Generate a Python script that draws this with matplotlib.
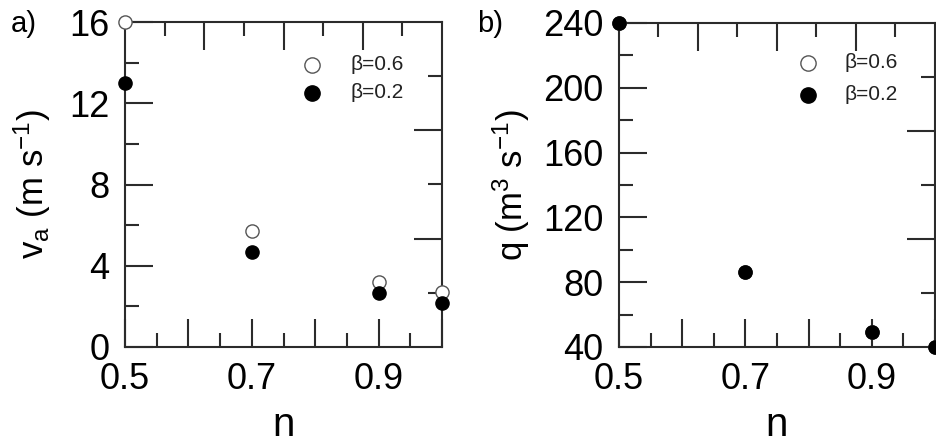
import numpy as np
import matplotlib
matplotlib.use('Agg')
import matplotlib.pyplot as plt
from matplotlib.ticker import MultipleLocator, FixedLocator, NullFormatter

plt.rcParams['font.family'] = ['Liberation Sans', 'DejaVu Sans']
plt.rcParams['mathtext.default'] = 'regular'

# data
n = [0.5, 0.7, 0.9, 1.0]
va_b06 = [16.0, 5.7, 3.2, 2.7]
va_b02 = [13.0, 4.67, 2.65, 2.15]
q_b06 = [240, 86.5, 49.5, 40]   # hidden under the filled markers
q_b02 = [240, 86.5, 49.5, 40]
xtick_labels = ['0.5', '', '0.7', '', '0.9', '']

dark = '#2b2b2b'
W, H = 937, 448
fig = plt.figure(figsize=(W / 100, H / 100), dpi=100)


def style_axes(ax, yticks, yminor):
    for s in ax.spines.values():
        s.set_color(dark)
        s.set_linewidth(1.5)
    ax.set_xlim(0.5, 1.0)
    ax.xaxis.set_minor_locator(MultipleLocator(0.05))
    ax.set_xticks(np.arange(0.5, 1.01, 0.1))
    ax.set_xticklabels(xtick_labels)
    ax.set_yticks(yticks)
    ax.yaxis.set_minor_locator(FixedLocator(yminor))
    ax.tick_params(which='both', direction='in', color=dark, width=1.5,
                   top=False, right=False)
    ax.tick_params(which='major', length=20.5)
    ax.tick_params(which='minor', length=10)
    ax.tick_params(axis='x', labelsize=26, pad=11)
    ax.tick_params(axis='y', labelsize=26, pad=11)
    ax.set_xlabel('n', fontsize=29, labelpad=6)

    # separate ticks on the top and right edges
    axt = ax.twiny()
    axt.set_xlim(0, 8)
    axt.set_xticks([2, 4, 6])
    axt.xaxis.set_minor_locator(FixedLocator([1, 3, 5, 7]))
    axt.xaxis.set_major_formatter(NullFormatter())
    axt.tick_params(which='both', direction='in', color=dark, width=1.5)
    axt.tick_params(which='major', length=20.5)
    axt.tick_params(which='minor', length=10)
    axr = ax.twinx()
    axr.set_ylim(0, 6)
    axr.set_yticks([2, 4])
    axr.yaxis.set_minor_locator(FixedLocator([1, 3, 5]))
    axr.yaxis.set_major_formatter(NullFormatter())
    axr.tick_params(which='both', direction='in', color=dark, width=1.5)
    axr.tick_params(which='major', length=20.5)
    axr.tick_params(which='minor', length=10)
    for a in (axt, axr):
        for s in a.spines.values():
            s.set_visible(False)
    ax.set_zorder(3)
    ax.patch.set_visible(False)


def add_legend(x0, y0, y1, x_text):
    fig.lines.append(plt.Line2D([x0 / W], [1 - y0 / H], marker='o', ms=11,
                                mfc='white', mec='#555555', mew=1.0,
                                transform=fig.transFigure))
    fig.lines.append(plt.Line2D([x0 / W], [1 - y1 / H], marker='o', ms=11,
                                mfc='black', mec='black',
                                transform=fig.transFigure))
    fig.text(x_text / W, 1 - y0 / H, 'β=0.6', fontsize=15, color='#222222',
             va='center', ha='left')
    fig.text(x_text / W, 1 - y1 / H, 'β=0.2', fontsize=15, color='#222222',
             va='center', ha='left')


# panel a
ax1 = fig.add_axes([125 / W, 1 - 347 / H, 317 / W, 325 / H])
ax1.plot(n, va_b06, 'o', ms=9.5, mfc='white', mec='#555555', mew=1.0,
         clip_on=False, zorder=4)
ax1.plot(n, va_b02, 'o', ms=9.5, mfc='black', mec='black',
         clip_on=False, zorder=5)
ax1.set_ylim(0, 16)
style_axes(ax1, [0, 4, 8, 12, 16], [2, 6, 10, 14])
ax1.set_ylabel('v$_a$ (m s$^{-1}$)', fontsize=25, labelpad=12)
add_legend(312, 65, 93, 350)
fig.text(11 / W, 1 - 24 / H, 'a)', fontsize=21, va='center', ha='left')

# panel b
ax2 = fig.add_axes([619 / W, 1 - 347 / H, 316 / W, 324 / H])
ax2.plot(n, q_b06, 'o', ms=9.5, mfc='white', mec='#555555', mew=1.0,
         clip_on=False, zorder=4)
ax2.plot(n, q_b02, 'o', ms=9.5, mfc='black', mec='black',
         clip_on=False, zorder=5)
ax2.set_ylim(40, 240)
style_axes(ax2, [40, 80, 120, 160, 200, 240], [60, 100, 140, 180, 220])
ax2.set_ylabel('q (m$^3$ s$^{-1}$)', fontsize=25, labelpad=8)
add_legend(808, 63, 95, 845)
fig.text(477 / W, 1 - 24 / H, 'b)', fontsize=21, va='center', ha='left')

fig.savefig('out.png', dpi=100, facecolor='white')
